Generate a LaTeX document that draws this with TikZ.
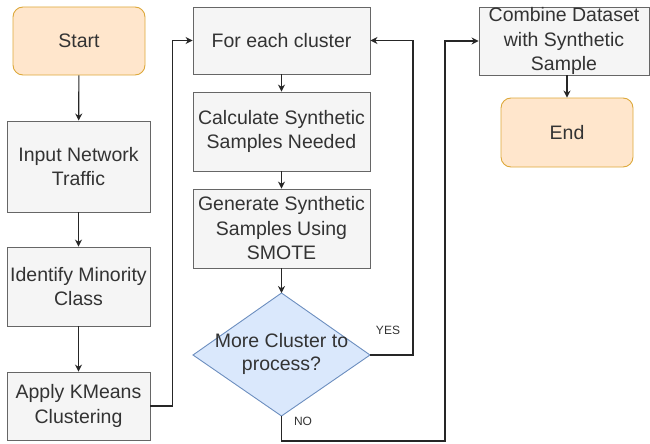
\documentclass[tikz,border=0pt]{standalone}
\usepackage{fontspec}
\setmainfont{Liberation Sans}
\usetikzlibrary{arrows.meta}
\definecolor{boxfill}{HTML}{F5F5F5}
\definecolor{boxline}{HTML}{666666}
\definecolor{termfill}{HTML}{FFE6CC}
\definecolor{termline}{HTML}{DDA83A}
\definecolor{decfill}{HTML}{DAE8FC}
\definecolor{decline}{HTML}{6C8EBF}
\definecolor{txt}{HTML}{333333}
\tikzset{
  box/.style={draw=boxline, fill=boxfill, line width=0.9pt, inner sep=0pt, align=center,
    text=txt, font=\fontsize{19.5}{24.5}\selectfont},
  term/.style={box, draw=termline, fill=termfill, rounded corners=10pt},
  arr/.style={draw=black!85, line width=1.1pt, -{Stealth[length=7pt,width=7pt]}},
  lbl/.style={font=\fontsize{12}{14}\selectfont, text=txt, inner sep=0pt}
}
\begin{document}
\begin{tikzpicture}[x=1pt,y=-1pt]
\useasboundingbox (0,0) rectangle (650,444);
% left column
\node[term, minimum width=132pt, minimum height=68pt] (start) at (79,41) {Start};
\node[box, minimum width=143pt, minimum height=91pt] (input) at (78.5,166.5) {Input Network\\Traffic};
\node[box, minimum width=143pt, minimum height=79pt] (ident) at (78.5,286.5) {Identify Minority\\Class};
\node[box, minimum width=143pt, minimum height=68pt] (apply) at (78.5,406) {Apply KMeans\\Clustering};
% middle column
\node[box, minimum width=177pt, minimum height=67pt] (each) at (281.5,40.5) {For each cluster};
\node[box, minimum width=177pt, minimum height=79pt] (calc) at (281.5,131.5) {Calculate Synthetic\\Samples Needed};
\node[box, minimum width=177pt, minimum height=79pt] (gen) at (281.5,228.5) {Generate Synthetic\\Samples Using\\SMOTE};
% decision diamond
\coordinate (dT) at (281.5,293);
\coordinate (dR) at (370,355);
\coordinate (dB) at (281.5,416);
\coordinate (dL) at (193,355);
\draw[draw=decline, fill=decfill, line width=0.9pt] (dT) -- (dR) -- (dB) -- (dL) -- cycle;
\node[align=center, text=txt, inner sep=0pt, font=\fontsize{19.5}{23}\selectfont] (dec) at (281.5,354) {More Cluster to\\process?};
% right column
\node[box, minimum width=170pt, minimum height=68pt] (comb) at (564,41) {Combine Dataset\\with Synthetic\\Sample};
\node[term, minimum width=132pt, minimum height=69pt] (end) at (567,132.5) {End};
% connectors
\draw[arr] (start) -- (input);
\draw[arr] (input) -- (ident);
\draw[arr] (ident) -- (apply);
\draw[arr] (apply.east) -- ++(22,0) |- (each.west);
\draw[arr] (each) -- (calc);
\draw[arr] (calc) -- (gen);
\draw[arr] (gen) -- (dT);
\draw[arr] (dR) -- (413,355) |- (each.east);
\draw[arr] (dB) -- (281.5,441) -- (445,441) |- (comb.west);
\draw[arr] (comb.south -| end.north) -- (end.north);
\node[lbl] (yes) at (388,330) {YES};
\node[lbl] (no) at (303,421) {NO};
\end{tikzpicture}
\end{document}
